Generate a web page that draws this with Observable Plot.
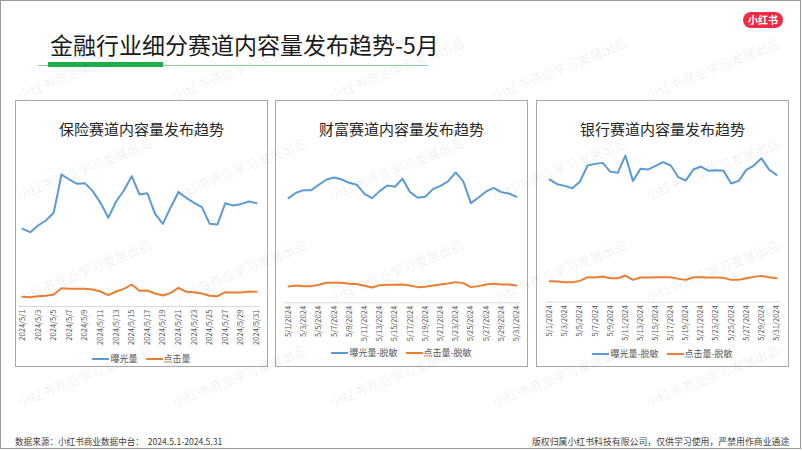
<!DOCTYPE html>
<html>
<head>
<meta charset="utf-8">
<script src="https://cdn.jsdelivr.net/npm/d3@7"></script>
<script src="https://cdn.jsdelivr.net/npm/@observablehq/plot@0.6"></script>
<style>
  html, body { margin: 0; padding: 0; background: #fff; }
  body { width: 802px; height: 451px; position: relative; overflow: hidden;
         font-family: "Noto Sans CJK SC", "Noto Sans", sans-serif; color: #262626; }
  .frame { position: absolute; left: 0; top: 0; width: 799px; height: 447px; border: 1px solid #9a9a9a; }
  .title { position: absolute; left: 50px; top: 31px; font-size: 23px; line-height: 26px; color: #1a1a1a; white-space: nowrap; }
  .bar { position: absolute; left: 48px; top: 62px; width: 115px; height: 5px; background: #1fae4b; }
  .thin { position: absolute; left: 38px; top: 65px; width: 390px; height: 1px; background: #8fd19e; }
  .logo { position: absolute; left: 743px; top: 12px; width: 40px; height: 16px; border-radius: 8px; background: #ee2c45;
          color: #fff; font-size: 10px; font-weight: bold; line-height: 16px; text-align: center; }
  .panel { position: absolute; top: 100px; width: 251px; height: 265px; border: 1px solid #a8a8a8; background: #fff; }
  .ptitle { position: absolute; left: 0; right: 0; top: 19px; text-align: center; font-size: 15px; line-height: 18px; color: #262626; }
  .panel svg { position: absolute; left: 0; top: 0; }
  .legend { position: absolute; left: 0; right: 0; display: flex; justify-content: center; align-items: center;
            font-size: 9px; color: #595959; gap: 8px; }
  .legend span.item { display: flex; align-items: center; gap: 1px; }
  .legend i { display: inline-block; width: 17px; height: 2px; }
  .footer { position: absolute; top: 435px; font-size: 8.6px; color: #404040; white-space: nowrap; }
  .wm { position: absolute; font-size: 13px; color: rgba(0,0,0,0.075); white-space: nowrap; transform: rotate(-22deg);
        transform-origin: center; pointer-events: none; z-index: 5; }
</style>
</head>
<body>
<div class="frame"></div>
<div class="title">金融行业细分赛道内容量发布趋势-5月</div>
<div class="thin"></div>
<div class="bar"></div>
<div class="logo">小红书</div>
<div id="charts"></div>
<div class="footer" style="left:15px;">数据来源：小红书商业数据中台：&nbsp; 2024.5.1-2024.5.31</div>
<div class="footer" style="left:532px; font-size:8.9px;">版权归属小红书科技有限公司，仅供学习使用，严禁用作商业通途</div>
<script>
// ---------- data ----------
const days = [1,2,3,4,5,6,7,8,9,10,11,12,13,14,15,16,17,18,19,20,21,22,23,24,25,26,27,28,29,30,31];
const labelsYMD = ["2024/5/1","2024/5/2","2024/5/3","2024/5/4","2024/5/5","2024/5/6","2024/5/7","2024/5/8","2024/5/9","2024/5/10","2024/5/11","2024/5/12","2024/5/13","2024/5/14","2024/5/15","2024/5/16","2024/5/17","2024/5/18","2024/5/19","2024/5/20","2024/5/21","2024/5/22","2024/5/23","2024/5/24","2024/5/25","2024/5/26","2024/5/27","2024/5/28","2024/5/29","2024/5/30","2024/5/31"];
const labelsMDY = ["5/1/2024","5/2/2024","5/3/2024","5/4/2024","5/5/2024","5/6/2024","5/7/2024","5/8/2024","5/9/2024","5/10/2024","5/11/2024","5/12/2024","5/13/2024","5/14/2024","5/15/2024","5/16/2024","5/17/2024","5/18/2024","5/19/2024","5/20/2024","5/21/2024","5/22/2024","5/23/2024","5/24/2024","5/25/2024","5/26/2024","5/27/2024","5/28/2024","5/29/2024","5/30/2024","5/31/2024"];
const tickDays = [1,3,5,7,9,11,13,15,17,19,21,23,25,27,29,31];

const insExposure = [233,223,243,258,281,396,381,368,370,346,311,266,315,348,391,336,340,278,248,298,343,326,311,298,248,246,310,303,307,315,310];
const insClicks   = [29,28,31,32,36,55,53,53,53,51,45,34,45,53,66,47,48,39,33,41,56,44,43,39,32,31,43,42,42,45,44];
const wealthExposure = [314,330,338,338,354,370,376,370,360,354,327,314,335,352,348,372,332,315,318,341,351,364,391,364,299,316,334,345,332,328,318];
const wealthClicks   = [49,52,50,50,54,60,60,60,57,56,51,46,53,54,54,55,52,47,48,52,55,58,62,59,47,50,55,57,55,55,52];
const bankExposure = [368,354,349,342,362,410,415,418,392,388,440,364,400,398,409,420,410,375,365,398,407,394,396,394,356,364,397,410,432,398,382];
const bankClicks   = [63,62,60,60,64,75,74,77,72,72,80,67,74,74,75,75,75,70,67,75,75,74,74,73,67,67,72,76,79,75,72];

const panelTitles = ["保险赛道内容量发布趋势", "财富赛道内容量发布趋势", "银行赛道内容量发布趋势"];
const seriesNamesA = ["曝光量", "点击量"];
const seriesNamesB = ["曝光量-脱敏", "点击量-脱敏"];
const colors = ["#5b9bd5", "#ed7d31"];

// ---------- layout ----------
const panels = [
  {left: 15,  title: panelTitles[0], labels: labelsYMD, a: insExposure, b: insClicks, names: seriesNamesA,
   ml: 2.1, mr: 7.1, base: 205, legendTop: 251},
  {left: 275, title: panelTitles[1], labels: labelsMDY, a: wealthExposure, b: wealthClicks, names: seriesNamesB,
   ml: 8.2, mr: 7.2, base: 201.3, legendTop: 245},
  {left: 536, title: panelTitles[2], labels: labelsMDY, a: bankExposure, b: bankClicks, names: seriesNamesB,
   ml: 8.5, mr: 8.2, base: 200.7, legendTop: 246}
];

const container = document.getElementById("charts");
panels.forEach(p => {
  const div = document.createElement("div");
  div.className = "panel";
  div.style.left = p.left + "px";
  const rows = days.map((d, i) => ({day: d, exposure: p.a[i], clicks: p.b[i]}));
  const W = 251, H = 250;
  const chart = Plot.plot({
    width: W, height: H,
    marginLeft: p.ml, marginRight: p.mr,
    marginTop: p.base - 150, marginBottom: H - p.base,
    style: {fontFamily: '"Noto Sans CJK SC", "Noto Sans", sans-serif', color: "#595959", background: "transparent", overflow: "visible"},
    x: {domain: [0.5, 31.5], axis: null},
    y: {domain: [0, 450], axis: null},
    marks: [
      Plot.ruleY([0], {stroke: "#d9d9d9", strokeWidth: 1}),
      Plot.axisX({ticks: tickDays, tickFormat: d => p.labels[d - 1], tickRotate: -90, tickSize: 0,
                  tickPadding: 3, fontSize: 7.6, fill: "#595959", label: null}),
      Plot.lineY(rows, {x: "day", y: "exposure", stroke: colors[0], strokeWidth: 2, strokeLinejoin: "round"}),
      Plot.lineY(rows, {x: "day", y: "clicks", stroke: colors[1], strokeWidth: 2, strokeLinejoin: "round"})
    ]
  });
  div.appendChild(chart);
  const t = document.createElement("div");
  t.className = "ptitle";
  t.textContent = p.title;
  div.appendChild(t);
  const lg = document.createElement("div");
  lg.className = "legend";
  lg.style.top = p.legendTop + "px";
  p.names.forEach((n, k) => {
    const it = document.createElement("span");
    it.className = "item";
    it.innerHTML = `<i style="background:${colors[k]}"></i><span>${n}</span>`;
    lg.appendChild(it);
  });
  div.appendChild(lg);
  container.appendChild(div);
});

// ---------- watermarks ----------
const wmText = "小红书商业学习发展出品";
const wmCols = [85, 240, 397, 560, 713];
const wmRows = [68, 168, 270, 375];
wmRows.forEach(y => wmCols.forEach(x => {
  const w = document.createElement("div");
  w.className = "wm";
  w.textContent = wmText;
  w.style.left = (x - 72) + "px";
  w.style.top = (y - 9) + "px";
  document.body.appendChild(w);
}));
</script>
</body>
</html>
